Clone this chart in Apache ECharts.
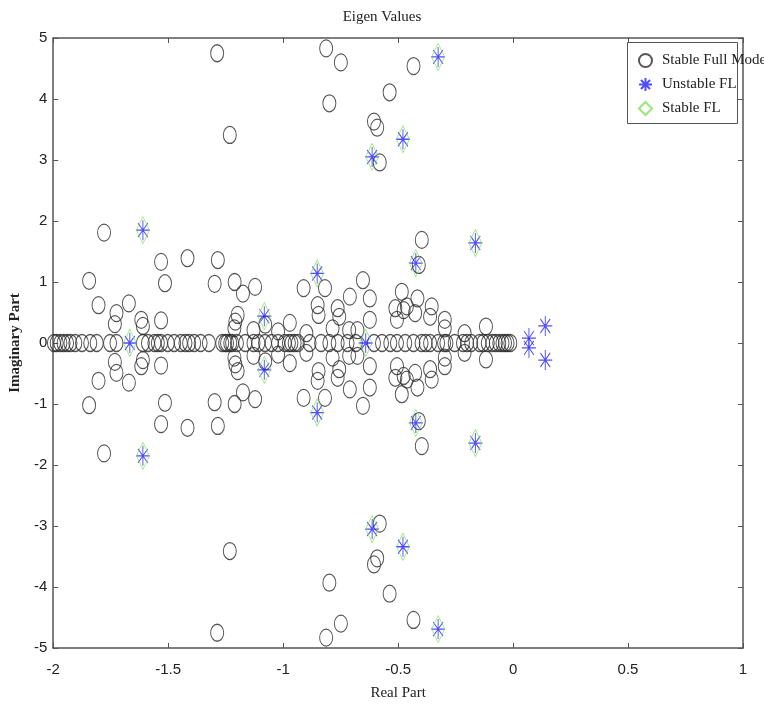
<!DOCTYPE html>
<html>
<head>
<meta charset="utf-8">
<script src="https://cdn.jsdelivr.net/npm/echarts@6/dist/echarts.min.js"></script>
<style>
  html, body { margin: 0; padding: 0; background: #fff; }
  #chart { width: 764px; height: 708px; }
</style>
</head>
<body>
<div id="chart"></div>
<script>
// Eigenvalues of the full model (complex pairs listed with both signs, then the real ones)
const fullModelComplex = [
  [-1.287, 4.75], [-0.813, 4.83], [-0.749, 4.60], [-0.799, 3.93], [-1.232, 3.41],
  [-0.537, 4.11], [-0.605, 3.63], [-0.591, 3.53], [-0.580, 2.96], [-0.433, 4.54],
  [-0.397, 1.69], [-0.410, 1.28], [-1.779, 1.81], [-1.531, 1.33], [-1.514, 0.98],
  [-1.844, 1.02], [-1.803, 0.62], [-1.671, 0.65], [-1.725, 0.49], [-1.732, 0.31],
  [-1.617, 0.38], [-1.610, 0.28], [-1.531, 0.37], [-1.416, 1.39], [-1.284, 1.36],
  [-1.298, 0.97], [-1.211, 1.00], [-1.175, 0.81], [-1.122, 0.92], [-1.198, 0.46],
  [-1.208, 0.35], [-1.212, 0.24], [-1.129, 0.21], [-0.971, 0.33], [-1.022, 0.19],
  [-1.078, 0.30], [-0.911, 0.90], [-0.818, 0.90], [-0.850, 0.62], [-0.846, 0.46],
  [-0.710, 0.76], [-0.653, 1.03], [-0.623, 0.73], [-0.763, 0.57], [-0.756, 0.43],
  [-0.623, 0.38], [-0.484, 0.84], [-0.512, 0.57], [-0.476, 0.54], [-0.505, 0.38],
  [-0.899, 0.16], [-0.713, 0.21], [-0.677, 0.21], [-0.785, 0.24], [-0.416, 0.73],
  [-0.354, 0.60], [-0.426, 0.49], [-0.361, 0.43], [-0.297, 0.38], [-0.297, 0.24],
  [-0.211, 0.16], [-0.118, 0.27], [-0.462, 0.60],
  [-1.287, -4.75], [-0.813, -4.83], [-0.749, -4.60], [-0.799, -3.93], [-1.232, -3.41],
  [-0.537, -4.11], [-0.605, -3.63], [-0.591, -3.53], [-0.580, -2.96], [-0.433, -4.54],
  [-0.397, -1.69], [-0.410, -1.28], [-1.779, -1.81], [-1.531, -1.33], [-1.514, -0.98],
  [-1.844, -1.02], [-1.803, -0.62], [-1.671, -0.65], [-1.725, -0.49], [-1.732, -0.31],
  [-1.617, -0.38], [-1.610, -0.28], [-1.531, -0.37], [-1.416, -1.39], [-1.284, -1.36],
  [-1.298, -0.97], [-1.211, -1.00], [-1.175, -0.81], [-1.122, -0.92], [-1.198, -0.46],
  [-1.208, -0.35], [-1.212, -0.24], [-1.129, -0.21], [-0.971, -0.33], [-1.022, -0.19],
  [-1.078, -0.30], [-0.911, -0.90], [-0.818, -0.90], [-0.850, -0.62], [-0.846, -0.46],
  [-0.710, -0.76], [-0.653, -1.03], [-0.623, -0.73], [-0.763, -0.57], [-0.756, -0.43],
  [-0.623, -0.38], [-0.484, -0.84], [-0.512, -0.57], [-0.476, -0.54], [-0.505, -0.38],
  [-0.899, -0.16], [-0.713, -0.21], [-0.677, -0.21], [-0.785, -0.24], [-0.416, -0.73],
  [-0.354, -0.60], [-0.426, -0.49], [-0.361, -0.43], [-0.297, -0.38], [-0.297, -0.24],
  [-0.211, -0.16], [-0.118, -0.27], [-0.462, -0.60]
];
const fullModelReal = [
  -1.997, -1.985, -1.969, -1.955, -1.940, -1.925, -1.904, -1.875, -1.839,
  -1.811, -1.753, -1.725, -1.610, -1.588, -1.560, -1.545, -1.531, -1.502,
  -1.474, -1.445, -1.425, -1.409, -1.387, -1.359, -1.323, -1.265, -1.252,
  -1.244, -1.230, -1.222, -1.201, -1.165, -1.129, -1.108, -1.079, -1.050,
  -1.022, -0.993, -0.975, -0.964, -0.950, -0.936, -0.885, -0.835, -0.799,
  -0.763, -0.720, -0.684, -0.605, -0.570, -0.534, -0.505, -0.469, -0.433,
  -0.398, -0.380, -0.361, -0.326, -0.300, -0.290, -0.254, -0.218, -0.200,
  -0.182, -0.146, -0.130, -0.110, -0.090, -0.075, -0.060, -0.046, -0.035,
  -0.024, -0.012
];

// Feedback-linearised eigenvalues
const unstableFL = [
  [-0.326, 4.69], [-0.479, 3.34], [-0.613, 3.05], [-1.610, 1.85], [-0.164, 1.64],
  [-0.852, 1.14], [-0.423, 1.31], [-1.082, 0.44], [-1.667, 0.00], [-0.641, 0.00],
  [-0.326, -4.69], [-0.479, -3.34], [-0.613, -3.05], [-1.610, -1.85], [-0.164, -1.64],
  [-0.852, -1.14], [-0.423, -1.31], [-1.082, -0.44],
  [0.069, 0.08], [0.069, -0.08], [0.140, 0.28], [0.140, -0.28]
];
const stableFL = [
  [-0.326, 4.69], [-0.479, 3.34], [-0.613, 3.05], [-1.610, 1.85], [-0.164, 1.64],
  [-0.852, 1.14], [-0.423, 1.31], [-1.082, 0.44], [-1.667, 0.00], [-0.641, 0.00],
  [-0.326, -4.69], [-0.479, -3.34], [-0.613, -3.05], [-1.610, -1.85], [-0.164, -1.64],
  [-0.852, -1.14], [-0.423, -1.31], [-1.082, -0.44]
];

const xTicks = { min: -2, max: 1, interval: 0.5 };
const yTicks = { min: -5, max: 5, interval: 1 };

const fullModelPoints = fullModelComplex.concat(fullModelReal.map(r => [r, 0]));

const ellipsePath = 'path://M0,10 A10,10 0 1,1 20,10 A10,10 0 1,1 0,10 Z';
const asteriskPath = 'path://M10,0 L10,20 M0,10 L20,10 M3,3 L17,17 M17,3 L3,17';
const diamondPath = 'path://M10,0 L20,10 L10,20 L0,10 Z';

const serif = '"Liberation Serif", "DejaVu Serif", serif';
const tickFont = '"Liberation Sans Narrow", "Liberation Sans", Arial, sans-serif';
const axisGray = '#555';

const chart = echarts.init(document.getElementById('chart'), null, { renderer: 'canvas' });

const boxAxisCommon = {
  axisLine: { show: true, onZero: false, lineStyle: { color: axisGray, width: 1.5 } },
  axisTick: { show: true, inside: true, length: 5, lineStyle: { color: axisGray } },
  splitLine: { show: false }
};

chart.setOption({
  animation: false,
  backgroundColor: '#fff',
  title: {
    text: 'Eigen Values',
    left: 'center',
    top: 5,
    textStyle: { fontFamily: serif, fontWeight: 'normal', fontSize: 15, color: '#222' }
  },
  grid: { left: 46, right: 21, top: 38, bottom: 60, containLabel: false },
  xAxis: [
    Object.assign({
      type: 'value', position: 'bottom',
      min: xTicks.min, max: xTicks.max, interval: xTicks.interval,
      name: 'Real Part', nameLocation: 'middle', nameGap: 38,
      nameTextStyle: { fontFamily: serif, fontSize: 15, color: '#222' },
      axisLabel: { fontFamily: tickFont, fontSize: 15, color: '#222', margin: 14 }
    }, boxAxisCommon),
    Object.assign({
      type: 'value', position: 'top',
      min: xTicks.min, max: xTicks.max, interval: xTicks.interval,
      axisLabel: { show: false }
    }, boxAxisCommon)
  ],
  yAxis: [
    Object.assign({
      type: 'value', position: 'left',
      min: yTicks.min, max: yTicks.max, interval: yTicks.interval,
      name: 'Imaginary Part', nameLocation: 'middle', nameGap: 23, nameRotate: 90,
      nameTextStyle: { fontFamily: serif, fontSize: 15, color: '#222', fontWeight: 'bold' },
      axisLabel: { fontFamily: tickFont, fontSize: 15, color: '#222', margin: 6 }
    }, boxAxisCommon),
    Object.assign({
      type: 'value', position: 'right',
      min: yTicks.min, max: yTicks.max, interval: yTicks.interval,
      axisLabel: { show: false }
    }, boxAxisCommon)
  ],
  legend: {
    orient: 'vertical',
    left: 638,
    top: 53,
    itemWidth: 13,
    itemHeight: 18,
    itemGap: 9,
    padding: 0,
    z: 6,
    textStyle: { fontFamily: serif, fontSize: 15, color: '#222', padding: [0, 0, 0, 5] },
    data: ['Stable Full Model', 'Unstable FL', 'Stable FL']
  },
  graphic: [{
    type: 'rect',
    z: 5,
    shape: { x: 627.5, y: 42.5, width: 110, height: 81 },
    style: { fill: '#fff', stroke: '#555', lineWidth: 1 }
  }],
  series: [
    {
      name: 'Stable Full Model',
      type: 'scatter',
      data: fullModelPoints,
      symbol: ellipsePath,
      symbolSize: [13, 17],
      itemStyle: { color: 'rgba(0,0,0,0)', borderColor: '#2a2a2a', borderWidth: 1.1 },
      emphasis: { disabled: true }
    },
    {
      name: 'Unstable FL',
      type: 'scatter',
      data: unstableFL,
      symbol: asteriskPath,
      symbolSize: [14, 20],
      itemStyle: { color: 'rgba(0,0,0,0)', borderColor: '#2222ff', borderWidth: 1.1 },
      emphasis: { disabled: true }
    },
    {
      name: 'Stable FL',
      type: 'scatter',
      data: stableFL,
      symbol: diamondPath,
      symbolSize: [13, 27],
      itemStyle: { color: 'rgba(0,0,0,0)', borderColor: '#7fe05a', borderWidth: 0.9 },
      emphasis: { disabled: true }
    }
  ]
});
</script>
</body>
</html>
